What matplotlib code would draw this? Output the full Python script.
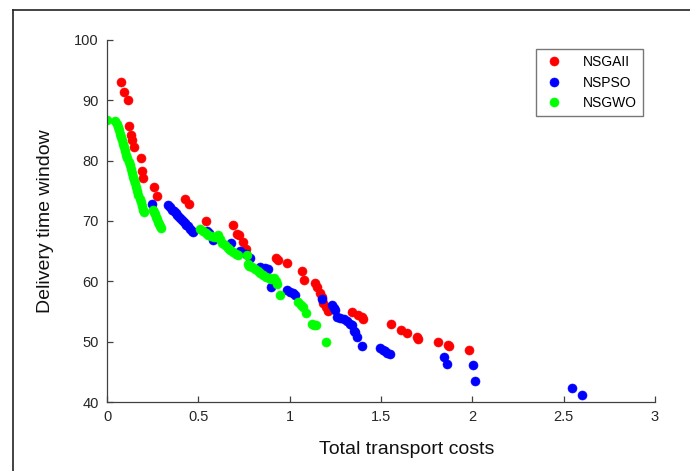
import matplotlib
matplotlib.use("Agg")
import matplotlib.pyplot as plt
from matplotlib.lines import Line2D

plt.rcParams['font.family'] = ['Liberation Sans', 'DejaVu Sans']

# Pareto fronts: total transport cost vs. delivery time window
nsgaii_cost = [0.075, 0.095, 0.113, 0.120, 0.131, 0.139, 0.149, 0.184, 0.193, 0.198,
               0.259, 0.275, 0.427, 0.450, 0.542, 0.690, 0.710, 0.725, 0.742, 0.760,
               0.925, 0.935, 0.987, 1.065, 1.078, 1.140, 1.150, 1.166, 1.175, 1.184,
               1.200, 1.210, 1.339, 1.375, 1.394, 1.400, 1.557, 1.610, 1.645, 1.695,
               1.700, 1.810, 1.865, 1.870, 1.980]
nsgaii_time = [93.1, 91.4, 90.0, 85.7, 84.3, 83.5, 82.3, 80.4, 78.3, 77.1,
               75.6, 74.2, 73.7, 72.9, 70.0, 69.3, 67.8, 67.6, 66.5, 65.4,
               63.8, 63.6, 63.0, 61.7, 60.3, 59.8, 59.1, 58.0, 57.4, 56.4,
               55.7, 55.0, 54.9, 54.5, 54.1, 53.8, 53.0, 51.9, 51.5, 50.7,
               50.4, 49.9, 49.5, 49.2, 48.6]

nspso_cost = [0.244, 0.335, 0.345, 0.355, 0.365, 0.375, 0.385, 0.395, 0.405, 0.415,
              0.425, 0.435, 0.445, 0.455, 0.463, 0.470, 0.545, 0.560, 0.580, 0.680,
              0.728, 0.760, 0.783, 0.837, 0.865, 0.883, 0.900, 0.983, 1.000, 1.020,
              1.030, 1.175, 1.230, 1.240, 1.248, 1.257, 1.275, 1.300, 1.315, 1.330,
              1.340, 1.350, 1.357, 1.367, 1.394, 1.494, 1.510, 1.520, 1.535, 1.550,
              1.846, 1.859, 2.005, 2.017, 2.543, 2.600]
nspso_time = [72.8, 72.6, 72.3, 71.9, 71.6, 71.3, 71.0, 70.7, 70.4, 70.0,
              69.7, 69.4, 69.1, 68.7, 68.4, 68.1, 68.4, 68.0, 66.8, 66.4,
              65.1, 64.5, 63.8, 62.4, 62.2, 62.1, 59.0, 58.5, 58.3, 58.0,
              57.7, 57.0, 56.0, 55.5, 55.2, 54.1, 54.0, 53.8, 53.5, 53.0,
              52.7, 51.8, 51.6, 50.8, 49.3, 49.0, 48.7, 48.5, 48.2, 47.9,
              47.4, 46.3, 46.2, 43.4, 42.4, 41.2]

nsgwo_cost = [0.000, 0.044, 0.055, 0.060, 0.066, 0.071, 0.077, 0.083, 0.088, 0.094,
              0.100, 0.106, 0.112, 0.118, 0.124, 0.130, 0.136, 0.142, 0.148, 0.154,
              0.160, 0.166, 0.172, 0.178, 0.184, 0.190, 0.196, 0.202, 0.250, 0.256,
              0.262, 0.268, 0.274, 0.280, 0.286, 0.292, 0.298, 0.510, 0.525, 0.540,
              0.555, 0.570, 0.585, 0.600, 0.607, 0.618, 0.630, 0.645, 0.660, 0.675,
              0.690, 0.705, 0.715, 0.765, 0.773, 0.780, 0.795, 0.810, 0.825, 0.840,
              0.855, 0.870, 0.885, 0.900, 0.915, 0.925, 0.929, 0.947, 1.047, 1.060,
              1.073, 1.090, 1.120, 1.135, 1.145, 1.200]
nsgwo_time = [86.7, 86.6, 86.1, 85.6, 85.0, 84.5, 83.9, 83.4, 82.8, 82.2,
              81.6, 81.0, 80.4, 79.8, 79.2, 78.6, 78.0, 77.3, 76.8, 76.3,
              75.7, 75.0, 74.3, 73.7, 73.1, 72.5, 71.9, 71.5, 71.9, 71.5,
              71.1, 70.7, 70.3, 69.9, 69.5, 69.1, 68.8, 68.7, 68.3, 68.0,
              67.7, 67.5, 67.3, 67.4, 67.6, 67.0, 66.4, 66.0, 65.6, 65.2,
              64.8, 64.5, 64.3, 64.3, 62.9, 62.6, 62.3, 62.0, 61.7, 61.4,
              61.1, 60.8, 60.6, 60.4, 60.5, 60.1, 59.6, 57.7, 56.6, 56.1,
              55.7, 54.7, 53.0, 52.8, 52.7, 49.9]

series_names = ['NSGAII', 'NSPSO', 'NSGWO']
series_colors = ['#ff0000', '#0000ff', '#00ff00']

x_ticks = [0, 0.5, 1, 1.5, 2, 2.5, 3]
x_tick_labels = ['0', '0.5', '1', '1.5', '2', '2.5', '3']
y_ticks = [40, 50, 60, 70, 80, 90, 100]

fig = plt.figure(figsize=(6.9, 4.71), dpi=100)
ax = fig.add_axes([107 / 690, 1 - 402 / 471, 548 / 690, 362 / 471])

for cx, ty, name, col in zip([nsgaii_cost, nspso_cost, nsgwo_cost],
                             [nsgaii_time, nspso_time, nsgwo_time],
                             series_names, series_colors):
    ax.plot(cx, ty, linestyle='none', marker='o', markersize=6.5,
            markerfacecolor=col, markeredgecolor=col, markeredgewidth=0.4,
            label=name)

ax.set_xlim(0, 3)
ax.set_ylim(40, 100)
ax.set_xticks(x_ticks)
ax.set_xticklabels(x_tick_labels)
ax.set_yticks(y_ticks)

for side in ('top', 'right'):
    ax.spines[side].set_visible(False)
for side in ('left', 'bottom'):
    ax.spines[side].set_color('#404040')
    ax.spines[side].set_linewidth(0.9)

ax.tick_params(direction='in', length=4.5, width=0.9, color='#404040',
               labelsize=10.5, labelcolor='#262626', pad=6)

ax.set_xlabel('Total transport costs', fontsize=14, color='#111111')
ax.set_ylabel('Delivery time window', fontsize=14, color='#111111')
ax.xaxis.set_label_coords(0.546, -0.108)
ax.yaxis.set_label_coords(-0.097, 0.5)

leg = ax.legend(loc='upper right', bbox_to_anchor=(0.978, 0.975), fontsize=10,
                frameon=True, fancybox=False, handletextpad=1.3,
                borderpad=0.45, labelspacing=0.45, handlelength=1.6,
                borderaxespad=0)
leg.get_frame().set_edgecolor('#555555')
leg.get_frame().set_linewidth(1.0)

# outer frame around the figure
fig.add_artist(Line2D([12.5 / 690, 12.5 / 690], [1 - 10 / 471, 0],
                      transform=fig.transFigure, color='#222222', linewidth=1.2))
fig.add_artist(Line2D([12.5 / 690, 1], [1 - 10 / 471, 1 - 10 / 471],
                      transform=fig.transFigure, color='#222222', linewidth=1.2))

fig.savefig('out.png', dpi=100)
